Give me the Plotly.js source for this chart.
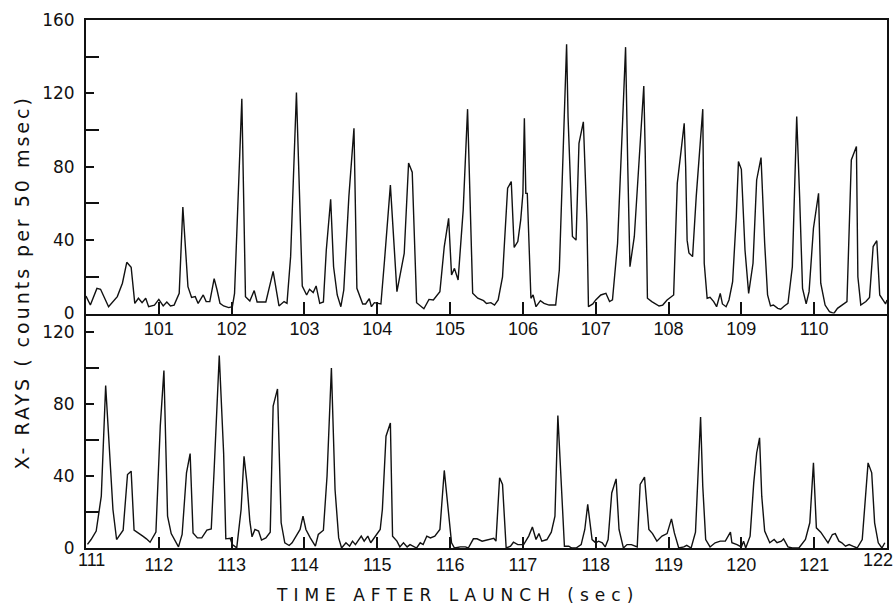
<!DOCTYPE html>
<html>
<head>
<meta charset="utf-8">
<script src="https://cdn.plot.ly/plotly-3.0.1.min.js"></script>
<style>
  html, body { margin: 0; padding: 0; background: #fff; }
  #chart { width: 896px; height: 610px; }
  .annotation[data-index="0"] text { letter-spacing: 3px; }
  .annotation[data-index="1"] text { letter-spacing: 6px; }
</style>
</head>
<body>
<div id="chart"></div>
<script>
// ---- Top panel: time (s) and counts per 50 msec ----
const topTime = [100.00,100.06,100.15,100.20,100.31,100.43,100.50,100.56,100.62,100.67,100.72,100.77,100.82,100.86,100.94,101.00,101.06,101.11,101.16,101.21,101.28,101.33,101.40,101.45,101.50,101.54,101.61,101.65,101.70,101.76,101.80,101.84,101.89,101.96,102.01,102.04,102.14,102.19,102.25,102.31,102.35,102.47,102.57,102.65,102.72,102.76,102.81,102.89,102.97,103.03,103.07,103.12,103.16,103.21,103.26,103.30,103.36,103.40,103.45,103.50,103.54,103.61,103.68,103.72,103.80,103.84,103.89,103.92,103.96,104.00,104.05,104.10,104.18,104.27,104.37,104.43,104.48,104.54,104.60,104.64,104.71,104.77,104.86,104.92,104.98,105.02,105.06,105.11,105.18,105.24,105.31,105.38,105.46,105.50,105.56,105.61,105.66,105.72,105.79,105.84,105.88,105.93,105.97,106.00,106.02,106.04,106.06,106.11,106.14,106.18,106.24,106.29,106.36,106.45,106.50,106.57,106.60,106.62,106.66,106.68,106.73,106.77,106.83,106.88,106.90,106.96,107.00,107.07,107.14,107.19,107.23,107.30,107.37,107.41,107.44,107.47,107.53,107.60,107.66,107.68,107.71,107.77,107.81,107.87,107.92,107.98,108.07,108.12,108.17,108.215,108.235,108.255,108.28,108.33,108.38,108.42,108.47,108.49,108.53,108.57,108.62,108.66,108.71,108.74,108.79,108.83,108.88,108.93,108.96,109.00,109.05,109.10,109.16,109.21,109.27,109.32,109.36,109.40,109.44,109.50,109.54,109.59,109.64,109.70,109.76,109.80,109.84,109.89,109.93,109.99,110.06,110.09,110.15,110.21,110.27,110.32,110.39,110.45,110.51,110.58,110.60,110.64,110.71,110.76,110.81,110.86,110.90,110.94,110.98,111.00];
const topCounts = [9.5,4.6,13.7,13.2,3.7,9.2,16.5,27.9,25.2,5.5,8.3,5.9,8.3,3.7,4.6,7.7,4.1,6.3,4.1,4.6,11,58,14.6,8.8,9.2,5.5,10.1,6.5,6.5,19,12.8,5.5,4.1,3.2,3.7,11,117,9.2,6.8,12.5,6.3,6.3,23,4.1,6.5,5.5,31,120.5,15,10.1,13.2,11.4,15,5.5,6.3,34.6,62.3,25.5,10.1,3.7,12.8,63.7,101,13.7,5.2,5.2,8.1,3.7,5.9,5.5,5.2,29.2,70,11.9,32.8,82,77,5.9,4.1,2.6,7.7,7.4,11.9,36.5,51.9,21,24.6,18.3,56.5,111.4,11,8.3,7,5.5,5.9,4.6,7.4,20,68.3,71.9,36,39.2,51,65.5,106.5,65.5,65.5,8.3,10.1,3.7,7,5.5,4.6,4.6,23.7,105.5,146.8,107,56.5,42,40,92.8,104.5,49.2,3.7,5.2,7.4,10.1,11,6.5,7.4,38.3,105.5,145.2,80,25.5,42,89,124,87.4,8.3,6.5,5.5,4.1,4.6,7.4,10.1,71,88,103.7,80,40,33,31,63.7,87.4,111.4,27.4,8.3,8.8,6.5,3.7,11,5.2,3.7,7.4,17.4,52.8,82.8,78.6,34.6,11,27.4,72.8,85,38.3,10.1,4.1,4.6,2.8,2.3,4.1,5.5,25.5,107.4,63.7,13.7,5.2,11.9,46.5,65.5,16.5,4.6,1,0,2.8,4.6,6.5,83.7,91,20,4.6,6.5,8.8,36.5,39.7,10.1,7.4,5.2,7.4];

// ---- Bottom panel ----
const botTime = [111.02,111.07,111.14,111.21,111.27,111.33,111.37,111.42,111.47,111.51,111.57,111.62,111.66,111.72,111.78,111.83,111.88,111.96,112.02,112.07,112.12,112.17,112.27,112.32,112.38,112.43,112.47,112.53,112.59,112.66,112.72,112.76,112.83,112.89,112.92,112.98,113.01,113.07,113.13,113.17,113.21,113.25,113.28,113.32,113.37,113.41,113.47,113.53,113.57,113.63,113.68,113.73,113.79,113.83,113.89,113.94,113.98,114.02,114.08,114.15,114.19,114.26,114.31,114.37,114.42,114.47,114.51,114.57,114.62,114.66,114.70,114.78,114.82,114.87,114.91,114.97,115.04,115.07,115.12,115.18,115.21,115.27,115.31,115.36,115.41,115.45,115.50,115.54,115.59,115.63,115.68,115.73,115.79,115.86,115.92,115.97,116.02,116.06,116.14,116.21,116.25,116.32,116.37,116.44,116.50,116.55,116.60,116.63,116.68,116.72,116.77,116.83,116.87,116.93,117.01,117.08,117.13,117.18,117.22,117.26,117.33,117.39,117.44,117.48,117.54,117.57,117.63,117.67,117.73,117.80,117.85,117.89,117.95,118.00,118.04,118.09,118.13,118.17,118.22,118.28,118.32,118.38,118.43,118.49,118.57,118.61,118.67,118.73,118.78,118.84,118.91,118.98,119.04,119.08,119.14,119.21,119.25,119.31,119.37,119.44,119.47,119.51,119.57,119.64,119.71,119.78,119.85,119.87,119.94,120.00,120.03,120.06,120.12,120.17,120.21,120.25,120.28,120.32,120.39,120.45,120.49,120.55,120.58,120.64,120.70,120.79,120.88,120.94,120.99,121.03,121.09,121.13,121.19,121.25,121.29,121.34,121.38,121.43,121.48,121.53,121.59,121.66,121.70,121.74,121.79,121.83,121.88,121.93,121.97];
const botCounts = [2,4.7,9.4,28.8,90.3,45.5,21.4,4.7,8,9.9,40.8,42.7,9.9,8,6.6,5.1,3.2,8.8,67.7,98.6,17.7,8,0.6,7.5,41.8,52.5,8.4,5.6,5.6,9.9,10.6,43.6,107,52.8,5.1,5.4,1.9,0.1,21.4,51,36.2,14.9,6.2,10.3,9.4,4.4,5.6,8.8,78.8,88.4,14,2.9,1.4,2.9,6.6,10.3,17.7,10.3,5.6,1,7.5,9.9,39.9,100,32.5,5.6,0,2.9,1,3.8,1.9,6.6,3.8,6.6,2.9,6.6,10.3,21.4,62.1,69.5,6.6,3.8,0.6,2.9,0.6,1.9,0.6,0,2.9,1.9,6.6,5.6,6.6,10.3,43.1,21.4,2.9,0,0.6,0.6,0,5.1,5.1,3.8,4.4,4.7,5.4,3.8,39,35.3,0,1,3.2,1.9,1.9,6.6,11.7,4.7,8,3.8,4.7,8.8,17.7,73.6,21.4,1,1,0,0,1.9,10.3,24.2,4.7,2.9,3.8,2.9,0.6,4.7,30.6,38.4,10.3,0,1.9,1.9,0.6,35.3,39.4,10.3,8,3.8,6.6,8,16.2,8.4,0,0.6,1.5,0,8.8,72.8,34.3,4.7,0.6,2.9,3.8,3.8,8.8,2.9,1.9,0.6,3.8,0,6.6,36.2,52.8,61.2,28.8,9.4,2.9,4.7,2.9,3.8,5.1,0.6,0,0,4.7,14,47.3,11.2,8.8,6.6,2.9,7.5,8,3.8,2.9,1,1.9,1,0,4.7,28.8,47.3,41.8,14,2.9,0,2.9];

// ---- Tick labels ----
const topXTicks = [101,102,103,104,105,106,107,108,109,110];
const botXTicks = [112,113,114,115,116,117,118,119,120,121];
const botXStart = [111];
const botXEnd = [122];
const topYTicks = [0,40,80,120,160];
const topYMinor = [20,60,100,140];
const botYTicks = [0,40,80,120];
const botYMinor = [20,60,100];
const yTitle = "X- RAYS ( counts per 50 msec)";
const xTitle = "TIME AFTER LAUNCH (sec)";

const ink = '#111';
const yTickFont = {family: 'DejaVu Sans', size: 17, color: ink};
const xTickFont = {family: 'Liberation Sans', size: 18, color: ink};

const traces = [
  {x: topTime, y: topCounts, xaxis: 'x2', yaxis: 'y2', type: 'scatter', mode: 'lines',
   line: {color: ink, width: 1.4}, hoverinfo: 'skip'},
  {x: botTime, y: botCounts, xaxis: 'x', yaxis: 'y', type: 'scatter', mode: 'lines',
   line: {color: ink, width: 1.4}, hoverinfo: 'skip'},
  // empty traces so the end-label axes are drawn
  {x: botXStart, y: [null], xaxis: 'x3', yaxis: 'y', type: 'scatter', mode: 'lines', hoverinfo: 'skip'},
  {x: botXEnd, y: [null], xaxis: 'x4', yaxis: 'y', type: 'scatter', mode: 'lines', hoverinfo: 'skip'}
];

const split = (548 - 313.5) / 528;

const axisCommon = {
  showline: true, linecolor: ink, linewidth: 2, showgrid: false, zeroline: false,
  ticks: 'inside', tickcolor: ink, tickwidth: 2, tickmode: 'array', ticklabeloverflow: 'allow'
};
const endAxis = {
  overlaying: 'x', anchor: 'y', range: [111, 122], showline: false, showgrid: false, zeroline: false,
  ticks: '', tickmode: 'array', tickfont: xTickFont, ticklabelstandoff: -1, ticklabeloverflow: 'allow'
};

const layout = {
  width: 896, height: 610,
  margin: {l: 86, r: 9, t: 20, b: 62},
  paper_bgcolor: '#fff', plot_bgcolor: '#fff',
  showlegend: false,
  xaxis: Object.assign({}, axisCommon, {
    domain: [0, 1], anchor: 'y', range: [111, 122], tickfont: xTickFont,
    tickvals: botXTicks, ticktext: botXTicks.map(String), ticklen: 11, ticklabelstandoff: -1
  }),
  xaxis3: Object.assign({}, endAxis, {
    tickvals: botXStart, ticktext: botXStart.map(String),
    ticklabelposition: 'outside right', ticklabelshift: -8
  }),
  xaxis4: Object.assign({}, endAxis, {
    tickvals: botXEnd, ticktext: botXEnd.map(String),
    ticklabelposition: 'outside left', ticklabelshift: 6
  }),
  yaxis: Object.assign({}, axisCommon, {
    domain: [0, split], anchor: 'x', range: [0, 130.3], mirror: true, tickfont: yTickFont,
    tickvals: botYTicks, ticktext: botYTicks.map(String), ticklen: 8, ticklabelstandoff: 6,
    minor: {tickmode: 'array', tickvals: botYMinor, ticks: 'inside', ticklen: 13, tickcolor: ink, tickwidth: 2}
  }),
  xaxis2: Object.assign({}, axisCommon, {
    domain: [0, 1], anchor: 'y2', range: [100, 111], mirror: true, tickfont: xTickFont,
    tickvals: topXTicks, ticktext: topXTicks.map(String), ticklen: 12, ticklabelstandoff: -2
  }),
  yaxis2: Object.assign({}, axisCommon, {
    domain: [split, 1], anchor: 'x2', range: [0, 160], mirror: true, tickfont: yTickFont,
    tickvals: topYTicks, ticktext: topYTicks.map(String), ticklen: 8, ticklabelstandoff: 6,
    minor: {tickmode: 'array', tickvals: topYMinor, ticks: 'inside', ticklen: 13, tickcolor: ink, tickwidth: 2}
  }),
  annotations: [
    {text: yTitle, xref: 'paper', yref: 'paper', x: (22 - 86) / 801, y: (548 - 283) / 528,
     xanchor: 'center', yanchor: 'middle', textangle: -90, showarrow: false,
     font: {family: 'DejaVu Sans', size: 19, color: ink}},
    {text: xTitle, xref: 'paper', yref: 'paper', x: (457 - 86) / 801, y: (548 - 595) / 528,
     xanchor: 'center', yanchor: 'middle', showarrow: false,
     font: {family: 'DejaVu Sans', size: 17, color: ink}}
  ]
};

Plotly.newPlot('chart', traces, layout, {staticPlot: true, displayModeBar: false});
</script>
</body>
</html>
